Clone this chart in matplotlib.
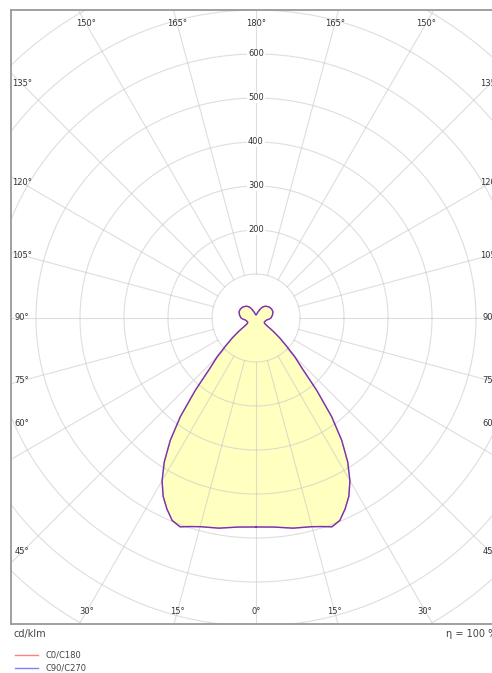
import numpy as np
import matplotlib
matplotlib.use("Agg")
import matplotlib.pyplot as plt
from matplotlib.lines import Line2D

# luminous intensity (cd/klm) vs gamma angle (deg, 0 = straight down)
gamma = [0, 5, 10, 15, 17.5, 20, 22.5, 25, 27.5, 30, 32.5, 35, 37.5, 40, 42.5,
         45, 47.5, 50, 52.5, 55, 57.5, 60, 65, 70, 75, 80, 85, 90, 100, 110,
         120, 130, 140, 145, 150, 155, 160, 165, 170, 175, 180]
c0_c180 = [475, 477, 485, 491, 497, 505, 498, 479, 457, 427, 388, 340, 282, 215, 155,
           125, 93, 70, 48, 30, 24, 22, 21, 22, 23, 25, 30, 34, 38, 41,
           41, 39, 35, 32, 28, 22, 16, 12, 9, 7.5, 7]
c90_c270 = list(c0_c180)

ring_values = [100, 200, 300, 400, 500, 600, 700, 800, 900]
ring_labels = [200, 300, 400, 500, 600]
angle_ticks = list(range(0, 181, 15))

legend_names = ["C0/C180", "C90/C270"]
unit_label = "cd/klm"
eta_label = "η = 100 %"

W, H = 492, 673
fig = plt.figure(figsize=(W / 100, H / 100), dpi=100)

# plot box in pixels: left 11, top 10, bottom 624, right 501 (cropped by the image)
left, top, bottom, right = 11, 10, 624, 501
cx, cy = 256, 318
scale = 0.44  # px per cd/klm
ax = fig.add_axes([left / W, (H - bottom) / H, (right - left) / W, (bottom - top) / H])
ax.set_xlim((left - cx) / scale, (right - cx) / scale)
ax.set_ylim((cy - bottom) / scale, (cy - top) / scale)
ax.set_aspect("equal")
ax.set_xticks([])
ax.set_yticks([])
for s in ax.spines.values():
    s.set_color("#999999")
    s.set_linewidth(1.3)

grid_kw = dict(color="#c8c8c8", alpha=0.6, lw=0.8, zorder=2)

# rings
t = np.linspace(0, 2 * np.pi, 400)
for rv in ring_values:
    ax.plot(rv * np.cos(t), rv * np.sin(t), **grid_kw)

# radial spokes, starting at the 100 ring
for a in range(0, 360, 15):
    th = np.radians(a)
    ax.plot([100 * np.cos(th), 1100 * np.cos(th)], [100 * np.sin(th), 1100 * np.sin(th)], **grid_kw)


def curve_xy(vals):
    g = np.radians(np.array(gamma))
    r = np.array(vals)
    xr, yr = r * np.sin(g), -r * np.cos(g)
    x = np.concatenate([xr, -xr[::-1]])
    y = np.concatenate([yr, yr[::-1]])
    return x, y


x1, y1 = curve_xy(c0_c180)
x2, y2 = curve_xy(c90_c270)
ax.fill(x1, y1, color="#ffffc0", lw=0, zorder=1)
ax.plot(x1, y1, color="#ff0000", alpha=0.55, lw=1.0, zorder=3)
ax.plot(x2, y2, color="#0000ff", alpha=0.55, lw=1.0, zorder=3)

# ring value labels along the vertical axis
for rv in ring_labels:
    ax.text(0, rv, str(rv), ha="center", va="center", fontsize=6, color="#333333", zorder=4,
            bbox=dict(boxstyle="square,pad=0.1", fc="white", ec="none"))

# angle labels where each spoke meets an inset of the frame
xin = (cx - left - 11) / scale
ytop = (cy - top - 13) / scale
ybot = (bottom - 13 - cy) / scale
y_override = {60: (cy - 424) / scale}  # the reference sets this one higher
for side in (-1, 1):
    for a in angle_ticks:
        if side == 1 and a in (0, 180):
            continue
        g = np.radians(a)
        dx, dy = side * np.sin(g), -np.cos(g)
        ts = []
        if abs(dx) > 1e-9:
            ts.append(xin / abs(dx))
        if dy > 1e-9:
            ts.append(ytop / dy)
        if dy < -1e-9:
            ts.append(ybot / -dy)
        tt = min(ts)
        lx, ly = tt * dx, y_override.get(a, tt * dy)
        ax.text(lx, ly, f"{a}°", ha="center", va="center", fontsize=6,
                color="#333333", zorder=4, clip_on=False)

# texts under the frame
fig.text(13 / W, 1 - 634 / H, unit_label, fontsize=7, color="#444444", va="center", ha="left")
fig.text(497 / W, 1 - 634 / H, eta_label, fontsize=7, color="#444444", va="center", ha="right")

# legend
leg_colors = [(1, 0, 0, 0.5), (0, 0, 1, 0.5)]
for i, (name, col) in enumerate(zip(legend_names, leg_colors)):
    yy = 1 - (655 + 13 * i) / H
    fig.add_artist(Line2D([15 / W, 38 / W], [yy, yy], color=col, lw=1.0, transform=fig.transFigure))
    fig.text(45 / W, yy, name, fontsize=6, color="#444444", va="center", ha="left")

fig.savefig("out.png", dpi=100)
